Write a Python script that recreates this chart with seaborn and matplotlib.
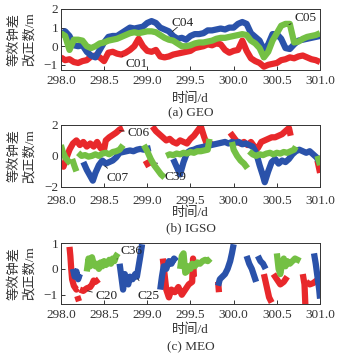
import numpy as np
import pandas as pd
import seaborn as sns
import matplotlib.pyplot as plt

nan = np.nan

# ---------------- (a) GEO ----------------
geo_t = [round(298.0 + 0.05 * i, 2) for i in range(61)]
c01_v = [-0.6, -0.75, -0.7, -0.85, -0.9, -0.8, -0.75, -0.55, -0.5, -0.6,
         -0.8, -0.35, -0.3, -0.4, -0.45, -0.35, -0.2, 0.0, 0.4, 0.0,
         -0.25, -0.3, -0.2, -0.55, -0.6, -0.55, -0.45, -0.4, -0.35, -0.3,
         -0.25, -0.1, -0.05, 0.0, 0.1, 0.05, 0.15, 0.1, -0.2, -0.35,
         -0.25, -0.2, 0.3, -0.25, -0.65, -0.8, -0.9, -1.1, -1.0, -0.95,
         -0.9, -0.75, -0.7, -0.6, -0.65, -0.55, -0.5, -0.6, -0.7, -0.75,
         -0.85]
c04_v = [0.6, 0.8, 0.55, 0.05, 0.0, 0.05, -0.3, -0.5, -0.6, -0.2,
         0.2, 0.5, 0.55, 0.55, 0.7, 0.85, 1.0, 0.95, 1.0, 1.05,
         1.25, 1.35, 1.25, 1.0, 0.9, 0.8, 0.55, 0.4, 0.45, 0.35,
         0.55, 0.65, 0.65, 0.7, 0.85, 0.85, 0.9, 0.95, 0.9, 1.0,
         1.0, 1.2, 1.3, 1.2, 0.7, 0.5, 0.3, -0.2, 0.1, 0.65,
         0.65, 0.4, -0.1, -0.15, 0.1, 0.3, 0.35, 0.4, 0.45, 0.5,
         0.55]
c05_v = [0.7, 0.55, -0.2, 0.35, 0.35, 0.3, 0.0, -0.1, 0.0, 0.15,
         0.2, 0.3, 0.35, 0.4, 0.5, 0.6, 0.7, 0.75, 0.7, 0.75,
         0.8, 0.8, 0.75, 0.6, 0.45, 0.35, 0.3, 0.15, 0.0, 0.0,
         0.05, 0.15, 0.2, 0.2, 0.25, 0.3, 0.4, 0.45, 0.45, 0.5,
         0.55, 0.6, 0.65, 0.6, 0.3, 0.15, -0.1, -0.6, -0.3, 0.3,
         0.7, 1.1, 1.2, 1.2, 0.2, 0.25, 0.4, 0.5, 0.55, 0.6,
         0.7]

# ---------------- (b) IGSO ----------------
c06_t = [298.0, 298.03, 298.06, 298.1, 298.14, 298.18, 298.22, 298.26, 298.3, 298.34,
         298.38, 298.42, 298.46, 298.5, 298.52, 298.56, 298.6, 298.64, 298.68, 298.72, nan,
         298.98, 299.02, nan,
         299.06, 299.1, 299.14, 299.18, 299.22, 299.26, 299.3, 299.34, 299.38, 299.42,
         299.46, 299.5, 299.54, 299.58, 299.62, 299.66, 299.7, 299.74, nan,
         299.96, 300.0, 300.04, 300.08, 300.12, 300.16, 300.2, 300.24, 300.28, 300.32,
         300.36, 300.4, 300.44, 300.48, 300.52, 300.56, 300.6, 300.64, 300.66, nan,
         300.97, 301.0]
c06_v = [-0.4, -0.7, -0.2, 0.4, 0.8, 1.0, 0.7, 0.9, 0.6, 0.8,
         0.6, 0.9, 0.5, 0.4, 1.0, 1.2, 1.35, 1.5, 1.7, 1.8, nan,
         -0.3, -0.7, nan,
         1.9, 1.6, 1.4, 1.2, 1.0, 1.1, 0.9, 0.8, 1.0, 0.9,
         0.8, 1.1, 1.3, 1.6, 1.9, 1.2, 0.6, 1.0, nan,
         1.5, 1.2, 0.9, 0.8, 0.9, 0.7, 0.9, 0.6, 0.5, 0.9,
         1.0, 1.1, 1.2, 1.2, 1.3, 1.4, 1.6, 1.8, 1.3, nan,
         -0.3, -1.1]
c07_t = [298.26, 298.3, 298.34, 298.37, 298.4, 298.44, 298.48, 298.52, 298.56, 298.6,
         298.64, 298.68, 298.72, 298.76, 298.8, 298.84, 298.88, 298.92, 298.96, 299.0,
         299.04, nan,
         299.3, 299.34, 299.38, 299.42, 299.46, 299.5, 299.54, 299.58, 299.62, 299.66,
         299.7, 299.74, 299.78, 299.82, 299.86, 299.9, 299.94, 299.98, 300.02, 300.06,
         300.1, 300.14, 300.18, 300.22, 300.26, 300.3, 300.34, 300.36, 300.4, 300.44,
         300.48, 300.52, 300.56, 300.6, 300.64, 300.68, 300.72, 300.76, 300.8, 300.84,
         300.88, 300.92, 300.96, 301.0]
c07_v = [-0.4, -0.9, -1.3, -1.6, -1.1, -0.6, -0.3, -0.5, -0.4, -0.3,
         -0.1, 0.2, 0.25, 0.3, 0.35, 0.3, 0.4, 0.45, 0.4, 0.45,
         0.5, nan,
         -0.2, -0.7, -1.2, -0.4, 0.2, 0.35, 0.4, 0.5, 0.55, 0.6,
         0.65, 0.7, 0.75, 0.8, 0.85, 0.9, 0.8, 0.9, 0.85, 0.9,
         0.75, 0.8, 0.7, 0.6, 0.2, -0.6, -1.3, -1.7, -1.0, -0.4,
         -0.2, -0.5, -0.3, -0.4, -0.2, 0.1, 0.3, 0.4, 0.3, 0.2,
         0.3, 0.1, -0.1, -0.5]
c39_t = [298.0, 298.02, 298.05, 298.08, 298.11, nan,
         298.13, 298.16, 298.18, nan,
         298.2, 298.24, 298.28, 298.32, 298.36, 298.4, 298.44, 298.48, 298.52, 298.56,
         298.6, 298.64, 298.68, 298.72, nan,
         298.96, 299.0, 299.04, 299.08, 299.12, 299.16, 299.2, nan,
         299.22, 299.26, 299.3, 299.34, 299.38, 299.42, 299.46, 299.5, 299.54, 299.58,
         299.62, 299.66, 299.7, 299.72, nan,
         299.98, 300.0, 300.04, 300.08, 300.12, 300.16, nan,
         300.18, 300.22, 300.26, 300.3, 300.34, 300.38, 300.42, 300.46, 300.5, 300.54,
         300.58, 300.62, 300.66, 300.7, 300.72, nan,
         300.97, 301.0]
c39_v = [0.7, 0.3, -0.1, -0.3, -0.5, nan,
         -0.2, -0.7, -1.0, nan,
         0.2, 0.0, 0.05, -0.05, 0.0, 0.1, 0.0, 0.15, 0.2, 0.1,
         0.25, 0.3, 0.4, 0.7, nan,
         0.7, 0.3, -0.2, -0.6, -0.9, -1.2, -1.4, nan,
         0.0, 0.1, 0.05, 0.15, 0.1, 0.2, 0.15, 0.25, 0.2, 0.3,
         0.3, 0.35, 0.4, 1.1, nan,
         0.9, 0.4, 0.0, -0.3, -0.5, -0.8, nan,
         0.3, 0.1, 0.0, 0.1, 0.05, 0.15, 0.2, 0.1, 0.2, 0.15,
         0.25, 0.2, 0.3, 0.4, 0.6, nan,
         0.0, -0.6]

# ---------------- (c) MEO ----------------
c20_t = [298.1, 298.11, 298.12, 298.13, 298.15, 298.18, 298.2, nan,
         298.19, 298.21, nan,
         298.22, 298.26, 298.3, 298.34, 298.36, 298.38, 298.4, 298.44, nan,
         299.18, 299.2, 299.22, 299.25, 299.28, 299.32, 299.36, 299.4, 299.44, 299.48,
         299.52, 299.53, 299.54, nan,
         299.82, 299.83, nan,
         300.35, 300.37, 300.39, 300.41, 300.44, nan,
         300.46, 300.5, 300.54, 300.58, 300.62, nan,
         300.8, 300.82, 300.83, nan,
         300.84, 300.88, 300.92, 300.96, 300.99]
c20_v = [0.85, 0.5, 0.0, -0.4, -0.65, -0.8, -0.75, nan,
         -1.05, -1.25, nan,
         -0.8, -0.85, -0.75, -0.7, -0.6, -0.45, -0.5, -0.4, nan,
         0.4, -0.2, -0.8, -1.1, -0.8, -0.9, -0.7, -1.0, -0.8, -0.6,
         -0.5, 0.4, -0.3, nan,
         -0.5, -0.9, nan,
         -0.2, -0.5, -0.8, -1.1, -1.3, nan,
         -0.2, -0.4, -0.6, -0.5, -0.3, nan,
         -0.2, -0.6, -1.4, nan,
         -0.5, -0.6, -0.55, -0.45, -0.5]
c25_t = [298.14, 298.16, 298.18, 298.2, 298.22, nan,
         298.68, 298.7, 298.72, 298.74, 298.76, 298.78, 298.8, 298.83, 298.86, 298.88,
         298.9, 298.92, 298.94, nan,
         299.15, 299.17, 299.19, 299.22, 299.25, 299.28, 299.31, 299.34, nan,
         299.82, 299.84, 299.87, 299.9, 299.93, 299.96, 299.98, 300.0, nan,
         300.15, 300.18, 300.21, 300.24, 300.26, nan,
         300.28, 300.31, 300.34, 300.37, nan,
         300.93, 300.95, 300.97, 300.99, 301.0]
c25_v = [0.0, -0.3, -0.1, -0.4, -0.2, nan,
         0.2, -0.3, -0.8, -0.2, -0.5, -0.6, -0.3, -0.4, -0.2, -0.3,
         0.1, 0.5, 0.95, nan,
         -0.8, -0.3, 0.1, 0.0, 0.3, 0.2, 0.4, 0.3, nan,
         -0.65, -0.4, -0.3, -0.2, 0.0, 0.3, 0.6, 0.95, nan,
         0.5, 0.2, 0.0, -0.3, -0.5, nan,
         0.5, 0.3, 0.2, 0.0, nan,
         0.6, 0.2, -0.3, -0.8, -1.15]
c36_t = [298.3, 298.32, 298.34, 298.36, 298.38, 298.4, 298.42, 298.44, 298.46, 298.48,
         298.5, 298.52, 298.54, 298.56, 298.58, 298.6, 298.62, 298.64, 298.66, nan,
         299.38, 299.4, 299.42, 299.44, 299.46, 299.48, 299.5, 299.52, 299.55, 299.58,
         299.61, 299.64, 299.67, 299.7, 299.73, nan,
         300.5, 300.52, 300.54, 300.56, 300.58, 300.6, 300.62, 300.65, 300.68, 300.71,
         300.74, 300.77]
c36_v = [-0.1, 0.4, 0.1, 0.45, 0.2, 0.1, 0.2, 0.0, 0.25, 0.1,
         0.3, 0.15, 0.2, 0.35, 0.2, 0.4, 0.3, 0.5, 0.6, nan,
         0.0, 0.5, 0.6, -0.15, -0.1, 0.1, 0.0, 0.2, 0.1, 0.25,
         0.2, 0.3, 0.35, 0.3, 0.4, nan,
         0.6, 0.0, -0.2, 0.2, 0.4, 0.1, 0.3, 0.2, 0.3, 0.4,
         0.35, 0.3]

colors = {'red': '#e8282b', 'blue': '#2a52aa', 'green': '#74c044'}


def make_df(series):
    # series: list of (name, t, v); NaN in t/v splits a line into segments
    parts = []
    for name, t, v in series:
        d = pd.DataFrame({'t': np.asarray(t, float), 'v': np.asarray(v, float)})
        d['seg'] = d['v'].isna().cumsum().astype(str) + name
        d['sat'] = name
        parts.append(d.dropna())
    return pd.concat(parts, ignore_index=True)


panels = [
    dict(series=[('C01', geo_t, c01_v), ('C04', geo_t, c04_v), ('C05', geo_t, c05_v)],
         pal={'C01': colors['red'], 'C04': colors['blue'], 'C05': colors['green']},
         ylim=(-1.27, 2), yticks=[-1, 0, 1, 2], caption='(a) GEO',
         labels=[('C04', 299.29, 0.79, 299.41, 1.26),
                 ('C05', 300.64, 1.16, 300.83, 1.53),
                 ('C01', 298.71, -0.53, 298.88, -0.95)],
         rect=[0.170, 0.806, 0.724, 0.169], xl=99, cap=113, xpad=4),
    dict(series=[('C06', c06_t, c06_v), ('C07', c07_t, c07_v), ('C39', c39_t, c39_v)],
         pal={'C06': colors['red'], 'C07': colors['blue'], 'C39': colors['green']},
         ylim=(-2, 2), yticks=[-2, 0, 2], caption='(b) IGSO',
         labels=[('C06', 298.68, 1.63, 298.9, 1.5),
                 ('C07', 298.51, -0.65, 298.66, -1.4),
                 ('C39', 299.11, -0.45, 299.33, -1.35)],
         rect=[0.170, 0.481, 0.724, 0.172], xl=213, cap=228, xpad=6),
    dict(series=[('C20', c20_t, c20_v), ('C25', c25_t, c25_v), ('C36', c36_t, c36_v)],
         pal={'C20': colors['red'], 'C25': colors['blue'], 'C36': colors['green']},
         ylim=(-1.35, 1), yticks=[-1, 0, 1], caption='(c) MEO',
         labels=[('C36', 298.65, 0.38, 298.82, 0.69),
                 ('C20', 298.31, -0.85, 298.53, -1.04),
                 ('C25', 298.89, -0.38, 299.02, -1.04)],
         rect=[0.170, 0.156, 0.724, 0.169], xl=330, cap=347, xpad=4),
]

sns.set_style('ticks')
plt.rcParams['font.family'] = ['Liberation Serif', 'Noto Sans CJK SC']
plt.rcParams['axes.unicode_minus'] = True

fig = plt.figure(figsize=(3.58, 3.6), dpi=100)
fig.patch.set_facecolor('white')

fs = 9.5
for p in panels:
    ax = fig.add_axes(p['rect'])
    df = make_df(p['series'])
    sns.lineplot(data=df, x='t', y='v', hue='sat', units='seg', estimator=None,
                 sort=False, palette=p['pal'], lw=4.5, legend=False, ax=ax,
                 solid_capstyle='butt')
    ax.set_xlim(298.0, 301.0)
    ax.set_ylim(*p['ylim'])
    ax.set_xticks(np.arange(298.0, 301.01, 0.5))
    ax.set_xticklabels([f'{x:.1f}' for x in np.arange(298.0, 301.01, 0.5)])
    ax.set_yticks(p['yticks'])
    ax.tick_params(direction='in', length=3, width=0.7, labelsize=fs, colors='#333333')
    ax.tick_params(axis='x', pad=p['xpad'])
    ax.tick_params(axis='y', pad=2)
    for s in ax.spines.values():
        s.set_linewidth(0.7)
        s.set_color('#333333')
    ax.set_xlabel('')
    ax.set_ylabel('等效钟差\n改正数/m', fontsize=fs, linespacing=1.25, color='#333333')
    ax.yaxis.set_label_coords(-0.095, 0.5)
    for name, x0, y0, x1, y1 in p['labels']:
        ax.annotate(name, xy=(x0, y0), xytext=(x1, y1), ha='center', va='center',
                    fontsize=fs, color='#222222',
                    arrowprops=dict(arrowstyle='-', lw=0.6, color='#222222',
                                    shrinkA=5, shrinkB=0))
    fig.text(0.532, 1 - p['xl'] / 360, '时间/d', ha='center', va='center', fontsize=fs, color='#333333')
    fig.text(0.532, 1 - p['cap'] / 360, p['caption'], ha='center', va='center', fontsize=fs, color='#333333')

fig.savefig('out.png', dpi=100)
